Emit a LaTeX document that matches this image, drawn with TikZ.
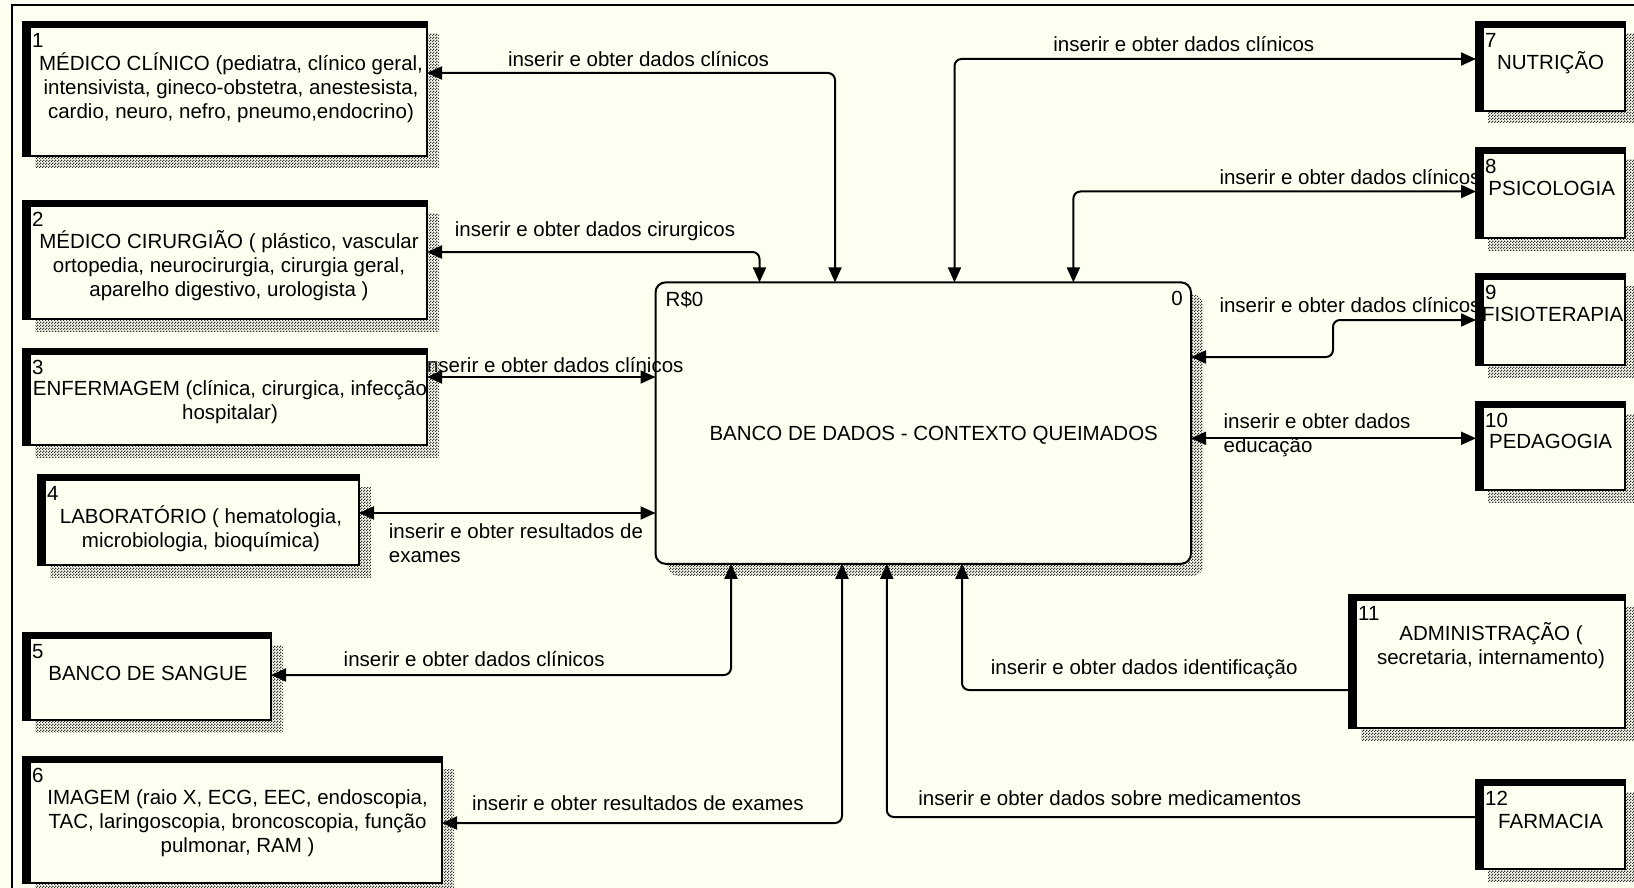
\documentclass[tikz,border=0pt]{standalone}
\usepackage{fontspec}
\setmainfont{Liberation Sans}
\usetikzlibrary{arrows.meta,shadows,patterns}
\definecolor{paper}{RGB}{255,255,241}
\newcommand\dfdfont{\fontsize{20.5pt}{24pt}\selectfont}
% stipple used for the drop shadows
\pgfdeclarepatternformonly{finecheck}{\pgfpointorigin}{\pgfqpoint{3pt}{3pt}}{\pgfqpoint{3pt}{3pt}}{%
  \pgfpathrectangle{\pgfpointorigin}{\pgfqpoint{1.5pt}{1.5pt}}%
  \pgfpathrectangle{\pgfqpoint{1.5pt}{1.5pt}}{\pgfqpoint{1.5pt}{1.5pt}}%
  \pgfusepath{fill}}
\begin{document}
\begin{tikzpicture}[x=1pt,y=-1pt,
  hatch/.style={drop shadow={shadow xshift=12pt,shadow yshift=-12pt,opacity=1,
      pattern=finecheck,pattern color=black!80}},
  ext/.style={draw,line width=2pt,fill=paper,inner sep=0pt,outer sep=0pt,hatch,
    path picture={
      \fill[black] (path picture bounding box.north west) rectangle ([xshift=8pt]path picture bounding box.south west);
      \fill[black] (path picture bounding box.north west) rectangle ([yshift=-6pt]path picture bounding box.north east);}},
  proc/.style={draw,line width=2pt,fill=paper,rounded corners=10pt,inner sep=0pt,outer sep=0pt,hatch},
  txt/.style={font=\dfdfont,align=center,inner sep=0pt},
  num/.style={font=\dfdfont,inner sep=0pt,anchor=north west},
  lab/.style={font=\dfdfont,inner sep=0pt},
  dfd/.tip={Triangle[length=15pt,width=13pt]},
  flow/.style={draw,line width=2pt,rounded corners=7pt},
  both/.style={flow,dfd-dfd},
  one/.style={flow,-dfd}]

\useasboundingbox (0,0) rectangle (1634,888);
\clip (0,0) rectangle (1634,888);
\fill[paper] (0,0) rectangle (1634,888);
\draw[line width=1.5pt] (12,5) rectangle (1680,920);

% central process
\node[proc,minimum width=535.5pt,minimum height=281.4pt] (db) at (923.25,423.1) {};
\node[txt] (tdb) at (933.7,435.6) {BANCO DE DADOS - CONTEXTO QUEIMADOS};
\node[num] (rdb) at ([xshift=10pt,yshift=-9pt]db.north west) {R\$0};
\node[num,anchor=north east] (ndb) at ([xshift=-8pt,yshift=-9pt]db.north east) {0};

% flow labels
\node[lab] (l1) at (638.5,59.5) {inserir e obter dados clínicos};
\node[lab] (l2) at (595,231.3) {inserir e obter dados cirurgicos};
\node[lab] (l3) at (553,364.7) {inserir e obter dados clínicos};
\node[lab,anchor=west,align=left] (l4) at (388.7,543.5) {inserir e obter resultados de\\exames};
\node[lab] (l5) at (474.2,658.6) {inserir e obter dados clínicos};
\node[lab] (l6) at (637.8,803.5) {inserir e obter resultados de exames};
\node[lab] (l7) at (1183.8,43.8) {inserir e obter dados clínicos};
\node[lab] (l8) at (1350,177.2) {inserir e obter dados clínicos};
\node[lab] (l9) at (1350,305.3) {inserir e obter dados clínicos};
\node[lab,anchor=west,align=left] (l10) at (1223.4,435.5) {inserir e obter dados\\educação};
\node[lab] (l11) at (1144.2,669) {inserir e obter dados identificação};
\node[lab] (l12) at (1109.8,798.3) {inserir e obter dados sobre medicamentos};

% external entities
\node[ext,minimum width=404pt,minimum height=134pt] (b1) at (225,89) {};
\node[ext,minimum width=404pt,minimum height=118pt] (b2) at (225,260) {};
\node[ext,minimum width=404pt,minimum height=96pt] (b3) at (225,397) {};
\node[ext,minimum width=321pt,minimum height=90pt] (b4) at (198.5,520) {};
\node[ext,minimum width=248pt,minimum height=87pt] (b5) at (147,676.5) {};
\node[ext,minimum width=419pt,minimum height=126pt] (b6) at (232.5,820) {};
\node[ext,minimum width=149pt,minimum height=89pt] (b7) at (1550.5,66.5) {};
\node[ext,minimum width=149pt,minimum height=90pt] (b8) at (1550.5,193) {};
\node[ext,minimum width=149pt,minimum height=91pt] (b9) at (1550.5,319.5) {};
\node[ext,minimum width=149pt,minimum height=88pt] (b10) at (1550.5,446) {};
\node[ext,minimum width=276pt,minimum height=133pt] (b11) at (1487,661.5) {};
\node[ext,minimum width=149pt,minimum height=89pt] (b12) at (1550.5,824.5) {};

\foreach \k in {1,...,12}{
  \node[num] (n\k) at ([xshift=9pt,yshift=-11pt]b\k.north west) {\k};
}

\node[txt] (t1) at (231,87.5) {MÉDICO CLÍNICO (pediatra, clínico geral,\\intensivista, gineco-obstetra, anestesista,\\cardio, neuro, nefro, pneumo,endocrino)};
\node[txt] (t2) at (229,265.4) {MÉDICO CIRURGIÃO ( plástico, vascular\\ortopedia, neurocirurgia, cirurgia geral,\\aparelho digestivo, urologista )};
\node[txt] (t3) at (230,402) {ENFERMAGEM (clínica, cirurgica, infecção\\hospitalar)};
\node[txt] (t4) at (201,528.3) {LABORATÓRIO ( hematologia,\\microbiologia, bioquímica)};
\node[txt] (t5) at (148,673.2) {BANCO DE SANGUE};
\node[txt] (t6) at (237.6,823.3) {IMAGEM (raio X, ECG, EEC, endoscopia,\\TAC, laringoscopia, broncoscopia, função\\pulmonar, RAM )};
\node[txt] (t7) at (1550.6,62.5) {NUTRIÇÃO};
\node[txt] (t8) at (1551.7,188.6) {PSICOLOGIA};
\node[txt] (t9) at (1552.7,314.7) {FISIOTERAPIA};
\node[txt] (t10) at (1550.6,441.8) {PEDAGOGIA};
\node[txt] (t11) at (1491,646) {ADMINISTRAÇÃO (\\secretaria, internamento)};
\node[txt] (t12) at (1550.6,821) {FARMACIA};

% data flows
\coordinate (j9) at (1333,338);
\draw[both] (b1.east |- 0,73) -| (db.north -| 835,0);
\draw[both] (b2.east |- 0,252) -| (db.north -| 759.5,0);
\draw[both] (b3.east |- 0,377) -- (db.west |- 0,377);
\draw[both] (b4.east |- 0,513) -- (db.west |- 0,513);
\draw[both] (b5.east |- 0,675) -| (db.south -| 731,0);
\draw[both] (b6.east |- 0,823) -| (db.south -| 842,0);
\draw[both] (db.north -| 954.5,0) |- (b7.west |- 0,59);
\draw[both] (db.north -| 1073.4,0) |- (b8.west |- 0,191.5);
\draw[both] (db.east |- 0,357) -| (j9) |- (b9.west |- 0,320);
\draw[both] (db.east |- 0,438.3) -- (b10.west |- 0,438.3);
\draw[one] (b11.west |- 0,690) -| (db.south -| 962,0);
\draw[one] (b12.west |- 0,817) -| (db.south -| 886.8,0);
\end{tikzpicture}
\end{document}
